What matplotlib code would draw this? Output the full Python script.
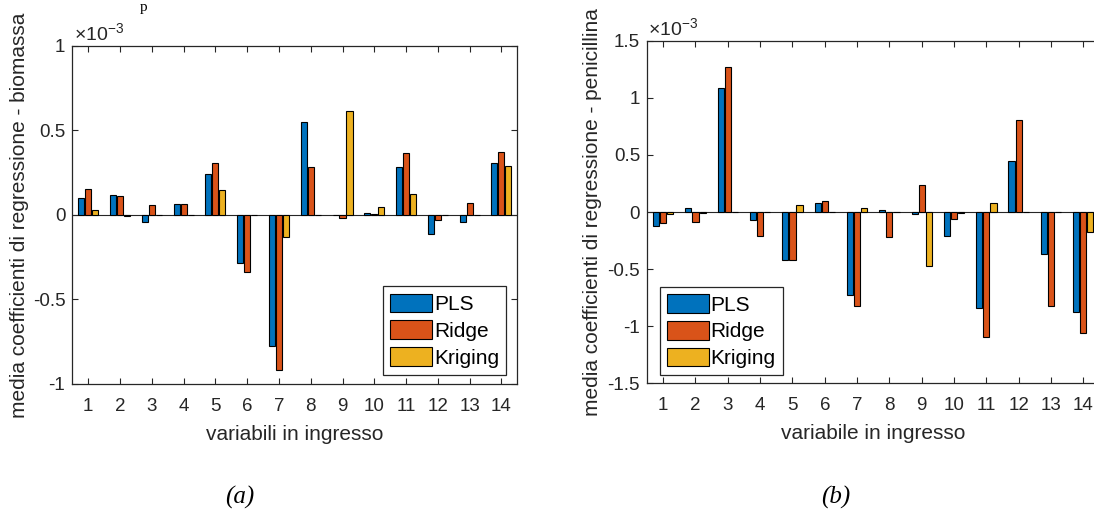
import numpy as np
import matplotlib
matplotlib.use("Agg")
import matplotlib.pyplot as plt

plt.rcParams["font.family"] = ["Liberation Sans", "DejaVu Sans"]
plt.rcParams["mathtext.fontset"] = "custom"
plt.rcParams["mathtext.rm"] = "Liberation Sans"
plt.rcParams["mathtext.default"] = "regular"
plt.rcParams["axes.unicode_minus"] = False

variabili = np.arange(1, 15)
modelli = ["PLS", "Ridge", "Kriging"]
colori = ["#0072BD", "#D95319", "#EDB120"]

# (a) biomassa - valori in unita' di 1e-3
pls_bio = [0.098, 0.118, -0.039, 0.063, 0.244, -0.282, -0.776, 0.549, -0.003, 0.012, 0.284, -0.112, -0.039, 0.308]
ridge_bio = [0.152, 0.110, 0.059, 0.067, 0.305, -0.335, -0.918, 0.282, -0.016, 0.004, 0.365, -0.029, 0.073, 0.375]
kriging_bio = [0.029, -0.008, 0.0, 0.0, 0.146, 0.0, -0.129, 0.0, 0.618, 0.049, 0.125, 0.0, 0.0, 0.292]

# (b) penicillina - valori in unita' di 1e-3
pls_pen = [-0.126, 0.032, 1.088, -0.067, -0.418, 0.082, -0.725, 0.015, -0.018, -0.213, -0.838, 0.447, -0.368, -0.879]
ridge_pen = [-0.097, -0.088, 1.272, -0.211, -0.418, 0.096, -0.825, -0.216, 0.239, -0.061, -1.092, 0.808, -0.826, -1.057]
kriging_pen = [-0.020, -0.009, 0.0, 0.0, 0.064, 0.0, 0.038, 0.0, -0.476, -0.005, 0.076, 0.0, 0.0, -0.172]

yticks_bio = [-1, -0.5, 0, 0.5, 1]
yticklabels_bio = ["-1", "-0.5", "0", "0.5", "1"]
yticks_pen = [-1.5, -1, -0.5, 0, 0.5, 1, 1.5]
yticklabels_pen = ["-1.5", "-1", "-0.5", "0", "0.5", "1", "1.5"]

grigio = "#262626"

fig = plt.figure(figsize=(10.94, 5.13), dpi=100)
ax1 = fig.add_axes([0.0661, 0.2515, 0.4068, 0.6589])
ax2 = fig.add_axes([0.5914, 0.2528, 0.4136, 0.6678])

pannelli = [
    (ax1, [pls_bio, ridge_bio, kriging_bio], yticks_bio, yticklabels_bio,
     "variabili in ingresso", "media coefficienti di regressione - biomassa",
     "lower right", (0.975, 0.027), -0.097),
    (ax2, [pls_pen, ridge_pen, kriging_pen], yticks_pen, yticklabels_pen,
     "variabile in ingresso", "media coefficienti di regressione - penicillina",
     "lower left", (0.028, 0.023), -0.100),
]

larghezza = 0.19
passo = 0.22
for ax, serie, yt, ytl, xlab, ylab, loc, anchor, ylab_x in pannelli:
    ax.axhline(0, color=grigio, lw=0.8, zorder=1)
    for i, (valori, nome, col) in enumerate(zip(serie, modelli, colori)):
        ax.bar(variabili + (i - 1) * passo, valori, width=larghezza, color=col,
               edgecolor="black", linewidth=0.8, label=nome, zorder=2)
    ax.set_xlim(0.5, 14.5)
    ax.set_ylim(yt[0], yt[-1])
    ax.set_xticks(variabili)
    ax.set_yticks(yt)
    ax.set_yticklabels(ytl)
    ax.tick_params(direction="in", top=True, right=True, length=4.5, width=0.8,
                   labelsize=13.5, colors=grigio)
    ax.tick_params(axis="x", pad=10)
    ax.tick_params(axis="y", pad=5)
    for s in ax.spines.values():
        s.set_color(grigio)
        s.set_linewidth(0.9)
    ax.set_xlabel(xlab, fontsize=15, color=grigio, labelpad=7)
    ax.set_ylabel(ylab, fontsize=15, color=grigio)
    ax.yaxis.set_label_coords(ylab_x, 0.5)
    ax.annotate("×10$^{-3}$", xy=(0, 1), xycoords="axes fraction", xytext=(1, 4),
                textcoords="offset points", va="baseline", ha="left",
                fontsize=14, color=grigio)
    leg = ax.legend(loc=loc, bbox_to_anchor=anchor, borderaxespad=0, fontsize=15,
                    fancybox=False, handlelength=2.0, handleheight=1.0,
                    labelspacing=0.3, handletextpad=0.1, borderpad=0.35,
                    framealpha=1)
    leg.get_frame().set_edgecolor(grigio)
    leg.get_frame().set_linewidth(0.9)

# il bordo destro del pannello (b) cade fuori dall'immagine
ax2.tick_params(right=False)

fig.text(240 / 1094, 1 - 497 / 513, "(a)", family="Liberation Serif", style="italic",
         fontsize=18, ha="center", va="center")
fig.text(836 / 1094, 1 - 497 / 513, "(b)", family="Liberation Serif", style="italic",
         fontsize=18, ha="center", va="center")
fig.text(144 / 1094, 1 - 1 / 513, "p", family="Liberation Serif", fontsize=11,
         ha="center", va="top")

fig.savefig("out.png", dpi=100)
